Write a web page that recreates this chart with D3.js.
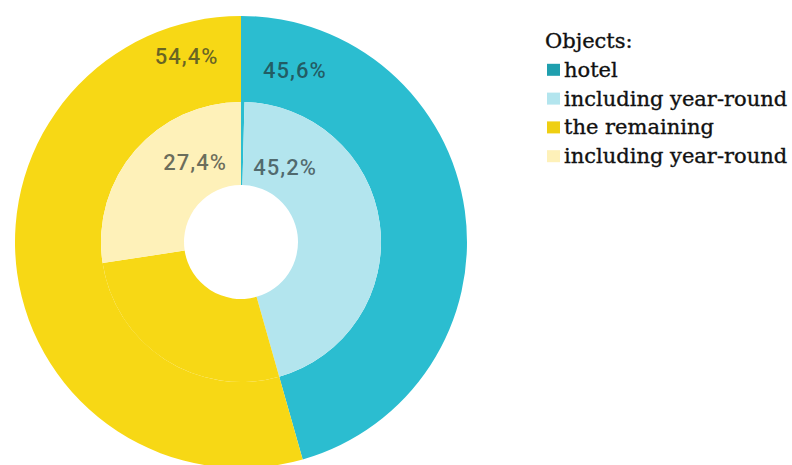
<!DOCTYPE html>
<html>
<head>
<meta charset="utf-8">
<script src="https://cdn.jsdelivr.net/npm/d3@7"></script>
<style>
  body { margin: 0; background: #fff; }
  svg { display: block; }
</style>
</head>
<body>
<svg id="chart" width="792" height="465"></svg>
<script>
// outer ring: share of all objects
var outerNames = ["hotel", "the remaining"];
var outerValues = [45.6, 54.4];
var outerText = ["45,6%", "54,4%"];

// inner ring: year-round parts (0.4 = hotels not year-round, 27.0 = rest not year-round)
var innerNames = ["hotel other", "hotel year-round", "remaining other", "remaining year-round"];
var innerValues = [0.4, 45.2, 27.0, 27.4];
var innerText = ["", "45,2%", "", "27,4%"];

var legendTitle = "Objects:";
var legendItems = ["hotel", "including year-round", "the remaining", "including year-round"];

var teal = "#2bbdd0", lightBlue = "#b3e5ee", yellow = "#f7d815", lightYellow = "#fef1b9";
var outerColors = [teal, yellow];
var innerColors = [teal, lightBlue, yellow, lightYellow];
var legendColors = ["#1f9fae", lightBlue, "#efcf12", lightYellow];

var cx = 241, cy = 242;
var rHole = 57, rMid = 140, rOuter = 226;

var svg = d3.select("#chart");
var g = svg.append("g").attr("transform", "translate(" + cx + "," + cy + ")");

var pie = d3.pie().sort(null).value(function(d) { return d; });

var outerArc = d3.arc().innerRadius(rMid).outerRadius(rOuter);
var innerArc = d3.arc().innerRadius(rHole).outerRadius(rMid);

g.selectAll(".outer").data(pie(outerValues)).enter().append("path")
    .attr("class", "outer")
    .attr("d", outerArc)
    .attr("fill", function(d, i) { return outerColors[i]; });

g.selectAll(".inner").data(pie(innerValues)).enter().append("path")
    .attr("class", "inner")
    .attr("d", innerArc)
    .attr("fill", function(d, i) { return innerColors[i]; });

// labels sit near the top seam, left / right of it
function polar(r, deg) {
    var a = deg * Math.PI / 180;
    return [r * Math.sin(a), -r * Math.cos(a)];
}
var labelStyle = function(sel) {
    sel.attr("text-anchor", "middle")
       .attr("dy", "0.36em")
       .style("font-family", "Roboto, 'Noto Sans', sans-serif")
       .style("font-size", "22px")
       .style("font-weight", "500")
       .style("letter-spacing", "1px")
       .attr("fill", "#1e2a2c")
       .attr("fill-opacity", 0.66);
};
var labels = [
    {t: outerText[0], r: 180, a: 17.4},
    {t: outerText[1], r: 194, a: -16.3},
    {t: innerText[1], r: 87, a: 30.4},
    {t: innerText[3], r: 92, a: -29.9}
];
g.selectAll(".lbl").data(labels).enter().append("text")
    .attr("class", "lbl")
    .attr("x", function(d) { return polar(d.r, d.a)[0]; })
    .attr("y", function(d) { return polar(d.r, d.a)[1]; })
    .call(labelStyle)
    .text(function(d) { return d.t; });

// legend
var lg = svg.append("g").attr("transform", "translate(546,48)");
var rowH = 28.8;
lg.append("text")
    .attr("x", -1).attr("y", 0)
    .style("font-family", "'DejaVu Serif', serif")
    .style("font-size", "21px")
    .attr("fill", "#111")
    .attr("stroke", "#111").attr("stroke-width", 0.35)
    .text(legendTitle);

var rows = lg.selectAll(".row").data(legendItems).enter().append("g")
    .attr("class", "row")
    .attr("transform", function(d, i) { return "translate(0," + (rowH * (i + 1)) + ")"; });
rows.append("rect")
    .attr("x", 1).attr("y", -13).attr("width", 13).attr("height", 12)
    .attr("fill", function(d, i) { return legendColors[i]; });
rows.append("text")
    .attr("x", 18).attr("y", 0)
    .style("font-family", "'DejaVu Serif', serif")
    .style("font-size", "21px")
    .attr("fill", "#111")
    .attr("stroke", "#111").attr("stroke-width", 0.35)
    .text(function(d) { return d; });
</script>
</body>
</html>
